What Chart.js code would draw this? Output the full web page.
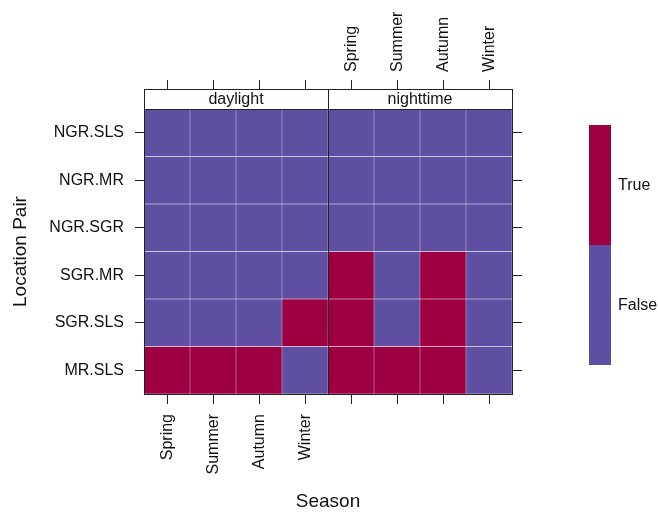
<!DOCTYPE html>
<html>
<head>
<meta charset="utf-8">
<script src="https://cdn.jsdelivr.net/npm/chart.js@4.4.0/dist/chart.umd.min.js"></script>
<style>
  html, body { margin: 0; background: #fff; }
  #box { width: 658px; height: 516px; }
</style>
</head>
<body>
<div id="box"><canvas id="heat"></canvas></div>
<script>
const periods = ["daylight", "nighttime"]
const seasons = ["Spring", "Summer", "Autumn", "Winter"]
const pairs = ["NGR.SLS", "NGR.MR", "NGR.SGR", "SGR.MR", "SGR.SLS", "MR.SLS"]
// one row per location pair, one column per season
const daylight = [
  [false, false, false, false],
  [false, false, false, false],
  [false, false, false, false],
  [false, false, false, false],
  [false, false, false, true],
  [true, true, true, false],
]
const nighttime = [
  [false, false, false, false],
  [false, false, false, false],
  [false, false, false, false],
  [true, false, true, false],
  [true, false, true, false],
  [true, true, true, false],
]
const levels = ["False", "True"]
const levelColors = ["#5e4fa2", "#9e0142"]

const FONT = "'Liberation Sans', Helvetica, Arial, sans-serif"
Chart.defaults.font.family = FONT
Chart.defaults.color = "#111"

const columns = periods.flatMap(p => seasons.map(s => p + "|" + s))
const panels = { daylight, nighttime }

const datasets = pairs.map((pair, row) => ({
  label: pair,
  data: columns.map(() => [row, row + 1]),
  backgroundColor: columns.map(c => {
    const [p, s] = c.split("|")
    return levelColors[panels[p][row][seasons.indexOf(s)] ? 1 : 0]
  }),
  borderColor: "rgba(255,255,255,0.14)",
  borderWidth: { top: 0.5, bottom: 0.5, left: 0.5, right: 0.5 },
  borderSkipped: false,
  barPercentage: 1,
  categoryPercentage: 1,
  grouped: false,
}))

const rowTicks = s => { s.ticks = pairs.map((p, i) => ({ value: i + 0.5 })) }

const latticeBits = {
  id: "latticeBits",
  afterDraw(chart) {
    const { ctx, chartArea: a, scales } = chart
    const x = scales.x
    const mid = (x.getPixelForValue(3) + x.getPixelForValue(4)) / 2
    ctx.save()
    // strips
    const stripTop = 89
    ctx.font = "16px " + FONT
    ctx.textAlign = "center"
    ctx.textBaseline = "middle"
    ;[[a.left, mid], [mid, a.right]].forEach(([l, r], i) => {
      ctx.fillStyle = "#fff"
      ctx.fillRect(l, stripTop, r - l, a.top - stripTop)
      ctx.strokeStyle = "#222"
      ctx.lineWidth = 1
      ctx.strokeRect(l + 0.5, stripTop + 0.5, r - l, a.top - stripTop)
      ctx.fillStyle = "#111"
      ctx.fillText(periods[i], (l + r) / 2, (stripTop + a.top) / 2 + 1)
    })
    // panel frame
    ctx.strokeStyle = "#222"
    ctx.strokeRect(a.left + 0.5, a.top + 0.5, a.right - a.left, a.bottom - a.top)
    ctx.beginPath()
    ctx.moveTo(Math.round(mid) + 0.5, stripTop)
    ctx.lineTo(Math.round(mid) + 0.5, a.bottom)
    ctx.stroke()
    // colour key
    const kx = 589, kw = 22, ktop = 125, kh = 240
    const step = kh / levels.length
    levels.forEach((lv, i) => {
      const y = ktop + kh - (i + 1) * step
      ctx.fillStyle = levelColors[i]
      ctx.fillRect(kx, y, kw, step)
      ctx.fillStyle = "#111"
      ctx.textAlign = "left"
      ctx.fillText(lv, kx + kw + 7, y + step / 2 + 1)
    })
    ctx.restore()
  }
}

new Chart(document.getElementById("heat"), {
  type: "bar",
  data: { labels: columns, datasets },
  plugins: [latticeBits],
  options: {
    responsive: true,
    maintainAspectRatio: false,
    animation: false,
    layout: { padding: 0 },
    plugins: { legend: { display: false }, tooltip: { enabled: false } },
    scales: {
      x: {
        position: "bottom",
        afterFit: s => { s.height = 122 },
        grid: { drawOnChartArea: false, offset: false, tickLength: 10, tickColor: "#222" },
        border: { color: "#222" },
        ticks: {
          autoSkip: false, minRotation: 90, maxRotation: 90, padding: 10, labelOffset: 1,
          font: { size: 16 },
          callback: (v, i) => columns[i].startsWith(periods[0]) ? columns[i].split("|")[1] : "",
        },
        title: { display: true, text: "Season", font: { size: 19 }, padding: { top: 0, bottom: 3 } },
      },
      xTop: {
        type: "category",
        position: "top",
        afterFit: s => { s.height = 109 },
        grid: { drawOnChartArea: false, offset: false, tickLength: 29, tickColor: "#222" },
        border: { color: "#222" },
        ticks: {
          autoSkip: false, minRotation: 90, maxRotation: 90, padding: 8, labelOffset: 20,
          font: { size: 16 },
          callback: (v, i) => columns[i].startsWith(periods[1]) ? columns[i].split("|")[1] : "",
        },
      },
      y: {
        type: "linear",
        position: "left",
        min: 0, max: pairs.length, reverse: true,
        afterBuildTicks: rowTicks,
        afterFit: s => { s.width = 144 },
        grid: { drawOnChartArea: false, tickLength: 9, tickColor: "#222" },
        border: { color: "#222" },
        ticks: { padding: 11, font: { size: 16 }, callback: v => pairs[Math.floor(v)] },
        title: { display: true, text: "Location Pair", font: { size: 19 }, padding: { top: 9, bottom: 0 } },
      },
      yRight: {
        type: "linear",
        position: "right",
        min: 0, max: pairs.length, reverse: true,
        afterBuildTicks: rowTicks,
        afterFit: s => { s.width = 146 },
        grid: { drawOnChartArea: false, tickLength: 10, tickColor: "#222" },
        border: { color: "#222" },
        ticks: { callback: () => "" },
      },
    },
  },
})
</script>
</body>
</html>
